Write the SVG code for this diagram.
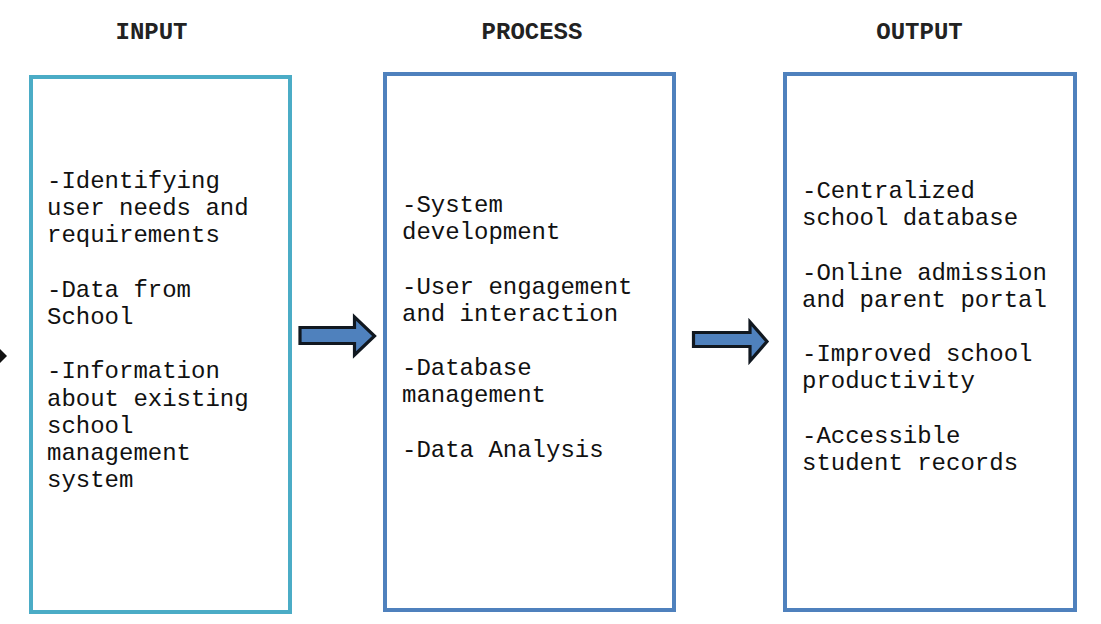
<svg xmlns="http://www.w3.org/2000/svg" width="1101" height="624" viewBox="0 0 1101 624">
<style>
.title{font-family:"Liberation Mono","Courier New",monospace;font-size:24px;font-weight:bold;fill:#222;text-anchor:middle}
.body{font-family:"Liberation Mono","Courier New",monospace;font-size:24px;fill:#111}
.box{fill:#fff;stroke-width:4}
.arrow{fill:#4F81BD;stroke:#111820;stroke-width:3.2;stroke-linejoin:miter}
</style>
<rect width="1101" height="624" fill="#fff"/>
<g id="titles">
<text class="title" x="151.5" y="39">INPUT</text>
<text class="title" x="532" y="39">PROCESS</text>
<text class="title" x="919.5" y="39">OUTPUT</text>
</g>
<g id="input">
<rect class="box" x="31" y="77" width="259" height="535" stroke="#4BACC6"/>
<text class="body" x="47" y="188">-Identifying</text>
<text class="body" x="47" y="215.2">user needs and</text>
<text class="body" x="47" y="242.4">requirements</text>
<text class="body" x="47" y="296.8">-Data from</text>
<text class="body" x="47" y="324">School</text>
<text class="body" x="47" y="378.4">-Information</text>
<text class="body" x="47" y="405.6">about existing</text>
<text class="body" x="47" y="432.8">school</text>
<text class="body" x="47" y="460">management</text>
<text class="body" x="47" y="487.2">system</text>
</g>
<g id="process">
<rect class="box" x="385" y="74" width="289" height="536" stroke="#4F81BD"/>
<text class="body" x="402" y="212">-System</text>
<text class="body" x="402" y="239.2">development</text>
<text class="body" x="402" y="293.6">-User engagement</text>
<text class="body" x="402" y="320.8">and interaction</text>
<text class="body" x="402" y="375.2">-Database</text>
<text class="body" x="402" y="402.4">management</text>
<text class="body" x="402" y="456.8">-Data Analysis</text>
</g>
<g id="output">
<rect class="box" x="785" y="74" width="290" height="536" stroke="#4F81BD"/>
<text class="body" x="802" y="198">-Centralized</text>
<text class="body" x="802" y="225.2">school database</text>
<text class="body" x="802" y="279.6">-Online admission</text>
<text class="body" x="802" y="306.8">and parent portal</text>
<text class="body" x="802" y="361.2">-Improved school</text>
<text class="body" x="802" y="388.4">productivity</text>
<text class="body" x="802" y="442.8">-Accessible</text>
<text class="body" x="802" y="470">student records</text>
</g>
<g id="connectors">
<polygon points="0,349 7,356 0,363" fill="#111"/>
<polygon class="arrow" points="300,327.5 354.5,327.5 354.5,317 374.5,336 354.5,355 354.5,343.5 300,343.5"/>
<polygon class="arrow" points="693.5,332.5 750,332.5 750,322 767,341.5 750,361 750,346.5 693.5,346.5"/>
</g>
</svg>
